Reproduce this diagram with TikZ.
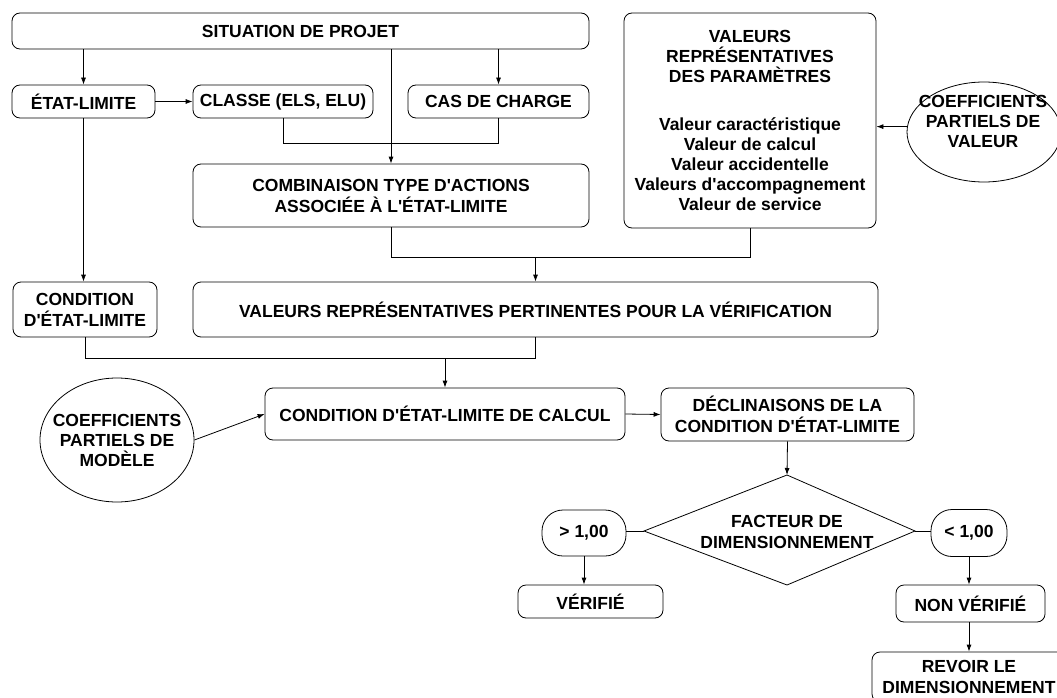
\documentclass[tikz,border=0pt]{standalone}
\usepackage{fontspec}
\setmainfont{Liberation Sans}[Ligatures=TeXOff]
\usetikzlibrary{arrows.meta,shapes.geometric}
\begin{document}
\begin{tikzpicture}[x=1pt,y=-1pt,
  font=\bfseries\fontsize{17.5}{21}\selectfont,
  line width=0.8pt,
  box/.style={draw,rounded corners=8pt,inner sep=0pt,align=center},
  pill/.style={draw,rounded corners=21pt,inner sep=0pt,align=center},
  oval/.style={draw,ellipse,inner sep=0pt},
  arr/.style={-{Latex[length=7pt,width=5pt]}},
]
\useasboundingbox (0,0) rectangle (1057,698);
\clip (0,0) rectangle (1057,698);

% top row
\node[box,minimum width=577pt,minimum height=36pt] (sit) at (300.5,31) {SITUATION DE PROJET};
\node[box,minimum width=143pt,minimum height=33pt] (etat) at (83.5,101.5) {ÉTAT-LIMITE};
\node[box,minimum width=180pt,minimum height=33pt] (classe) at (283,101.5) {CLASSE (ELS, ELU)};
\node[box,minimum width=181pt,minimum height=33pt] (cas) at (498.5,101.5) {CAS DE CHARGE};
\node[box,minimum width=396pt,minimum height=63pt] (comb) at (391,195.5) {COMBINAISON TYPE D'ACTIONS\\ASSOCIÉE À L'ÉTAT-LIMITE};
\node[box,minimum width=252pt,minimum height=215pt,font=\bfseries\fontsize{17.5}{20}\selectfont] (val) at (750,120.5)
  {VALEURS\\REPRÉSENTATIVES\\DES PARAMÈTRES\\[28pt]Valeur caractéristique\\Valeur de calcul\\Valeur accidentelle\\Valeurs d'accompagnement\\Valeur de service};
\node[oval,minimum width=154pt,minimum height=100pt] (cpv) at (984,132) {};
\node[align=center,font=\bfseries\fontsize{17.5}{20}\selectfont] (cpvt) at (983,121) {COEFFICIENTS\\PARTIELS DE\\VALEUR};

% middle
\node[box,minimum width=685pt,minimum height=55pt] (pert) at (535.5,309.5) {VALEURS REPRÉSENTATIVES PERTINENTES POUR LA VÉRIFICATION};
\node[box,minimum width=144pt,minimum height=55pt] (cond) at (85,309.5) {CONDITION\\D'ÉTAT-LIMITE};
\node[box,minimum width=360pt,minimum height=52pt] (calc) at (445,414) {CONDITION D'ÉTAT-LIMITE DE CALCUL};
\node[box,minimum width=253pt,minimum height=53pt] (decl) at (787.5,414.5) {DÉCLINAISONS DE LA\\CONDITION D'ÉTAT-LIMITE};
\node[oval,minimum width=154pt,minimum height=124pt] (cpm) at (117,440) {};
\node[align=center,font=\bfseries\fontsize{17.5}{20}\selectfont] (cpmt) at (117,440) {COEFFICIENTS\\PARTIELS DE\\MODÈLE};

% decision
\coordinate (fT) at (787,475);
\coordinate (fL) at (644,531);
\coordinate (fR) at (915,531);
\coordinate (fB) at (787,585);
\draw (fT) -- (fR) -- (fB) -- (fL) -- cycle;
\node[align=center] (fact) at (787,532) {FACTEUR DE\\DIMENSIONNEMENT};
\node[pill,minimum width=84pt,minimum height=46pt] (gt) at (584,533) {> 1,00};
\node[pill,minimum width=76pt,minimum height=47pt] (lt) at (969,533) {< 1,00};
\node[box,minimum width=145pt,minimum height=33pt] (ver) at (590.5,601.5) {VÉRIFIÉ};
\node[box,minimum width=149pt,minimum height=37pt] (nonv) at (970.5,603.5) {NON VÉRIFIÉ};
\node[box,minimum width=194pt,minimum height=50pt] (rev) at (969,677) {REVOIR LE\\DIMENSIONNEMENT};

% connectors
\draw[arr] (etat |- sit.south) -- (etat.north);
\draw[arr] (cas |- sit.south) -- (cas.north);
\draw[arr] (comb |- sit.south) -- (comb.north);
\draw (classe.south) -- ++(0,25) -| (cas.south);
\draw[arr] (etat.east) -- (classe.west);
\draw[arr] (etat.south) -- (etat.south |- cond.north);

\coordinate (j1) at (535.5,257);
\draw (comb.south) |- (val.south |- j1) -- (val.south);
\draw[arr] (j1) -- (pert.north);
\draw[arr] (cpv.176) -- (cpv.176 -| val.east);

\coordinate (j2) at (445,358);
\draw (cond.south) |- (pert.south |- j2) -- (pert.south);
\draw[arr] (j2) -- (calc.north);
\draw[arr] (cpm.east) -- (calc.west);
\draw[arr] (calc.east) -- (decl.west);
\draw[arr] (decl.south) -- (fT);
\draw (fL) -- (fL -| gt.east);
\draw (fR) -- (fR -| lt.west);
\draw[arr] (gt.south) -- (gt.south |- ver.north);
\draw[arr] (lt.south) -- (lt.south |- nonv.north);
\draw[arr] (lt.south |- nonv.south) -- (rev.north);
\end{tikzpicture}
\end{document}
